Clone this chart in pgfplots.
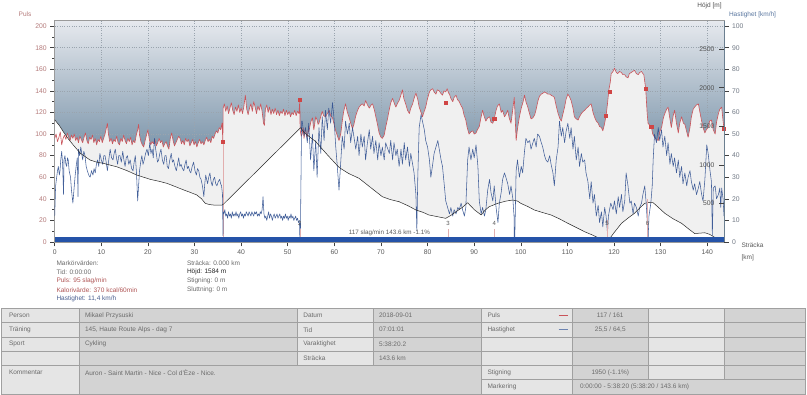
\documentclass[border=0pt]{standalone}
\usepackage{pgfplots}
\usepackage{pgfplotstable}
\pgfplotsset{compat=1.18}
\usepackage{fontspec}
\setmainfont{Liberation Sans}
\definecolor{bgtop}{HTML}{E6E9EE}
\definecolor{bgbot}{HTML}{30597A}
\definecolor{gridc}{HTML}{9AA4AE}
\definecolor{pulsfill}{HTML}{F0F0F0}
\definecolor{pulsc}{HTML}{C9545A}
\definecolor{markc}{HTML}{D04545}
\definecolor{speedc}{HTML}{2F4F90}
\definecolor{barc}{HTML}{2553A8}
\definecolor{pinkl}{HTML}{E2AEAE}
\definecolor{pulslab}{HTML}{B47A7A}
\definecolor{speedlab}{HTML}{707884}
\definecolor{speedtitle}{HTML}{5A77A0}
\definecolor{elevlab}{HTML}{505050}
\definecolor{xlab}{HTML}{5A5A5A}
\definecolor{framec}{HTML}{9A9A9A}
\definecolor{rightc}{HTML}{6B7F90}
\definecolor{tickc}{HTML}{404040}
\definecolor{cellL}{HTML}{E5E5E5}
\definecolor{cellD}{HTML}{D3D3D3}
\definecolor{tborder}{HTML}{A0A0A0}
\definecolor{ttext}{HTML}{6B6B6B}
\definecolor{redtext}{HTML}{B05555}
\definecolor{bluetext}{HTML}{4A5F90}
\newcommand\ticfont{\fontsize{6.8}{8}\selectfont}
\newcommand\txtfont{\fontsize{6.5}{8}\selectfont}

\pgfplotstableread{
x y
0.0 96
0.3 100
0.6 93
0.9 97
1.2 102
1.5 90
1.8 96
2.1 99
2.4 95
2.7 101
3.0 97
3.3 94
3.6 99
3.9 96
4.2 100
4.5 94
4.8 97
5.1 92
5.4 98
5.7 95
6.0 92
6.3 97
6.6 101
6.9 94
7.2 91
7.5 97
7.8 95
8.1 99
8.4 92
8.7 96
9.0 90
9.3 95
9.6 93
9.9 98
10.2 92
10.5 96
10.8 100
11.1 106
11.3 110
11.5 101
11.8 93
12.1 96
12.4 91
12.7 95
13.0 93
13.3 98
13.6 92
13.9 90
14.2 96
14.5 93
14.8 99
15.1 94
15.4 91
15.7 96
16.0 93
16.3 97
16.6 90
16.9 94
17.2 92
17.5 99
17.8 104
18.0 109
18.2 99
18.5 93
18.8 90
19.1 88
19.4 94
19.7 99
20.0 104
20.3 95
20.6 90
20.9 93
21.2 91
21.5 95
21.8 89
22.1 92
22.4 96
22.7 92
23.0 94
23.3 88
23.6 91
23.9 93
24.2 89
24.5 86
24.8 96
25.1 101
25.4 94
25.7 89
26.0 92
26.3 95
26.6 98
26.9 96
27.2 91
27.5 94
27.8 90
28.1 96
28.4 93
28.7 95
29.0 89
29.3 92
29.6 95
29.9 90
30.2 93
30.5 88
30.8 92
31.1 95
31.4 91
31.7 93
32.0 90
32.3 94
32.6 97
32.9 93
33.2 95
33.5 92
33.8 98
34.1 96
34.4 100
34.7 103
35.0 101
35.3 106
35.6 104
35.9 110
36.08 93
36.15 124
36.4 128
36.7 121
37.0 126
37.3 119
37.6 124
37.9 129
38.2 122
38.5 118
38.8 125
39.1 121
39.4 127
39.7 120
40.0 124
40.3 119
40.6 126
40.9 136
41.2 123
41.5 118
41.8 124
42.1 128
42.4 121
42.7 130
43.0 125
43.3 119
43.6 126
43.9 122
44.2 128
44.5 121
44.8 110
45.0 108
45.2 123
45.5 127
45.8 120
46.1 125
46.4 118
46.7 123
47.0 119
47.3 124
47.6 118
47.9 122
48.2 117
48.5 121
48.8 119
49.1 123
49.4 117
49.7 122
50.0 118
50.3 121
50.6 116
50.9 120
51.2 118
51.5 122
51.8 117
52.1 121
52.4 119
52.6 132
52.65 104
52.9 98
53.1 100
53.3 106
53.5 96
53.7 103
53.8 105
54.0 99
54.2 97
54.4 104
54.5 102
54.8 108
55.0 112
55.3 115
55.5 107
55.6 104
55.8 110
56.0 116
56.3 113
56.5 109
56.7 110
57.0 115
57.2 118
57.4 121
57.7 117
58.1 116
58.5 119
58.9 122
59.2 117
59.6 115
60.0 108
60.3 103
60.6 99
61.0 94
61.2 97
61.4 101
61.7 112
62.0 121
62.4 128
62.8 120
63.2 115
63.5 110
63.9 105
64.2 109
64.6 117
65.0 122
65.3 125
65.7 127
66.0 128
66.4 126
66.7 131
67.1 127
67.5 124
67.9 127
68.2 128
68.6 122
68.9 116
69.2 110
69.6 101
70.0 97
70.3 96
70.7 99
71.0 106
71.4 114
71.8 123
72.1 129
72.5 133
72.9 128
73.2 125
73.6 129
73.9 131
74.2 135
74.6 141
74.9 133
75.3 128
75.7 122
76.1 119
76.4 124
76.8 128
77.1 133
77.5 138
77.9 132
78.2 125
78.6 120
78.9 116
79.2 120
79.6 125
80.0 133
80.4 139
80.7 141
81.1 142
81.4 139
81.8 137
82.1 141
82.5 140
82.8 138
83.2 136
83.5 140
83.9 139
84.2 142
84.5 138
84.7 137
85.0 133
85.4 130
85.7 134
86.1 136
86.4 132
86.8 130
87.1 127
87.5 124
87.8 118
88.2 113
88.5 106
88.9 100
89.3 102
89.7 103
90.0 100
90.4 101
90.7 104
91.1 107
91.4 114
91.8 122
92.1 117
92.5 112
92.9 115
93.3 116
93.6 111
94.0 110
94.3 114
94.7 122
95.0 126
95.4 128
95.8 120
96.1 122
96.5 116
96.8 118
97.2 122
97.5 115
97.9 110
98.2 120
98.6 134
98.8 115
99.0 94
99.3 105
99.7 116
100.1 124
100.5 130
100.8 136
101.1 130
101.5 125
101.8 120
102.2 114
102.6 115
103.0 118
103.3 123
103.7 131
104.0 135
104.4 137
104.8 138
105.1 139
105.5 138
105.8 137
106.2 137
106.5 136
106.9 135
107.2 134
107.6 126
108.0 119
108.4 114
108.7 112
109.0 118
109.4 125
109.7 132
110.1 137
110.4 135
110.8 131
111.2 124
111.5 116
111.9 114
112.3 113
112.6 116
113.0 119
113.4 121
113.7 122
114.1 124
114.4 125
114.8 127
115.1 128
115.5 120
115.8 116
116.2 112
116.6 110
116.9 107
117.3 106
117.6 103
117.9 108
118.3 117
118.6 128
118.9 141
119.2 148
119.4 156
119.8 158
120.1 161
120.5 157
120.8 156
121.2 158
121.6 157
121.9 155
122.3 155
122.6 153
123.0 152
123.3 156
123.7 157
124.0 158
124.4 159
124.8 156
125.2 155
125.5 157
125.9 158
126.2 156
126.4 155
126.8 142
127.1 120
127.3 110
127.7 108
128.0 107
128.3 100
128.7 97
129.1 95
129.5 94
129.8 102
130.2 106
130.6 115
130.9 119
131.3 123
131.6 125
132.0 114
132.3 106
132.7 117
133.0 122
133.4 110
133.8 101
134.1 110
134.5 116
134.9 110
135.2 109
135.6 102
135.9 97
136.3 106
136.6 116
137.0 123
137.3 125
137.7 127
138.1 128
138.4 121
138.8 112
139.1 106
139.5 101
139.8 104
140.2 106
140.5 112
140.9 113
141.3 104
141.7 100
142.0 111
142.4 119
142.7 123
143.1 125
143.4 112
143.6 105
}\pulsdata

\pgfplotstableread{
x y
0.0 12
0.2 26
0.42 30
0.6 33
0.78 35
1.0 31
1.14 33
1.3 38
1.5 42
1.7 36
1.9 22
2.0 38
2.2 40
2.4 36
2.57 35
2.75 39
2.9 38
3.1 33
3.4 30
3.6 24
3.9 18
4.05 22
4.2 26
4.4 31
4.6 35
4.85 39
5.0 21
5.1 43
5.35 40
5.6 44
5.8 41
6.0 38
6.25 42
6.5 40
6.75 35
7.0 33
7.3 31
7.6 30
7.9 33
8.2 31
8.45 34
8.7 32
8.95 36
9.2 38
9.45 35
9.7 41
10.0 38
10.3 36
10.55 40
10.8 40
11.05 37
11.3 33
11.6 38
11.9 43
12.2 39
12.5 38
12.75 41
13.0 43
13.25 39
13.5 36
13.75 40
14.0 40
14.3 37
14.6 42
14.85 38
15.1 35
15.35 39
15.6 40
15.9 36
16.2 38
16.5 34
16.8 33
17.05 37
17.3 40
17.55 32
17.8 19
18.0 26
18.2 33
18.45 37
18.7 40
18.95 36
19.2 38
19.5 41
19.8 43
20.1 40
20.4 46
20.65 41
20.9 43
21.15 39
21.4 48
21.6 44
21.8 41
22.05 37
22.3 38
22.55 41
22.8 43
23.1 38
23.4 36
23.65 40
23.9 40
24.15 35
24.4 34
24.7 38
25.0 41
25.25 37
25.5 38
25.8 35
26.1 33
26.35 36
26.6 39
26.85 35
27.1 36
27.4 34
27.7 33
27.95 36
28.2 38
28.45 34
28.7 35
28.95 33
29.2 32
29.5 35
29.8 37
30.1 33
30.4 31
30.65 34
30.9 33
31.15 30
31.4 29
31.7 26
32.0 21
32.2 27
32.4 31
32.6 29
32.8 27
33.05 30
33.3 32
33.55 28
33.8 26
34.05 29
34.3 30
34.55 27
34.8 26
35.1 28
35.4 29
35.6 27
35.8 26
36.0 22
36.1 3
36.15 14
36.3 13
36.5 15
36.7 12
36.9 13
37.1 11
37.3 14
37.5 12
37.7 13
37.9 11
38.1 14
38.3 12
38.5 13
38.7 12
38.9 14
39.1 12
39.3 13
39.5 11
39.7 13
39.9 14
40.1 12
40.3 13
40.5 11
40.7 13
40.9 12
41.1 14
41.3 13
41.5 12
41.7 14
41.9 13
42.1 12
42.3 14
42.5 13
42.7 12
42.9 14
43.1 13
43.3 14
43.5 12
43.7 13
43.9 12
44.1 14
44.3 13
44.5 15
44.7 21
44.9 13
45.1 11
45.3 12
45.5 10
45.7 12
45.9 14
46.1 11
46.3 13
46.5 12
46.7 10
46.9 12
47.1 13
47.3 11
47.5 12
47.7 13
47.9 11
48.1 12
48.3 13
48.5 11
48.7 12
48.9 10
49.1 12
49.3 11
49.5 13
49.7 11
49.9 12
50.1 10
50.3 12
50.5 11
50.7 13
50.9 11
51.1 12
51.3 10
51.5 11
51.7 12
51.9 10
52.1 11
52.3 9
52.5 10
52.62 0
52.7 0
52.97 56
53.1 56
53.5 49
53.8 53
54.2 46
54.5 55
54.9 38
55.3 50
55.6 33
56.0 47
56.3 30
56.7 53
57.1 41
57.4 58
57.8 47
58.1 61
58.5 52
58.8 62
59.2 55
59.6 64.5
59.9 58
60.3 44
60.6 36
61.0 24
61.4 38
61.7 49
62.1 43
62.4 56
62.8 50
63.2 55
63.5 46
63.9 53
64.6 43
65.0 49
65.3 40
65.7 50
66.0 44
66.4 49
66.7 38
67.1 46
67.5 52
67.8 43
68.2 49
68.5 41
68.9 47
69.3 38
69.6 46
70.0 40
70.3 44
70.7 38
71.0 46
71.8 41
72.1 47
72.5 38
72.8 46
73.2 40
73.5 43
73.9 35
74.3 43
74.6 36
75.0 46
75.3 38
75.7 44
76.1 35
76.4 41
76.8 36
77.1 32
77.5 22
77.7 5
77.9 30
78.2 53
78.6 59
78.9 56
79.3 52
79.6 47
80.0 44
80.4 38
80.7 30
81.1 36
81.4 41
81.8 44
82.2 47
82.5 43
82.9 38
83.2 35
83.6 26
83.9 19
84.3 16
84.7 13
85.0 16
85.4 12
85.7 15
86.1 13
86.5 16
86.8 15
87.2 18
87.5 15
87.9 12
88.2 16
88.6 38
88.9 44
89.3 38
89.7 43
90.0 39
90.4 45
90.8 35
91.1 19
91.5 13
91.8 16
92.2 12
92.5 15
92.9 24
93.3 29
93.6 23
94.0 19
94.3 26
94.7 16
95.1 9
95.4 18
95.8 23
96.1 29
96.5 32
96.8 30
97.2 27
97.6 22
97.9 26
98.3 20
98.55 12
98.6 0
98.7 0
99.0 33
99.3 38
99.7 30
100.1 35
100.4 32
100.8 42
101.1 48
101.5 46
101.9 47
102.2 43
102.6 46
102.9 48
103.3 44
103.6 50
104.0 49
104.4 46
104.7 44
105.1 40
105.4 38
105.8 37
106.2 40
106.5 36
106.9 32
107.2 26
107.6 38
108.0 44
108.3 56
108.7 49
109.0 53
109.4 46
109.7 51
110.1 55
110.5 48
110.8 53
111.2 43
111.5 49
111.9 38
112.3 44
112.6 35
113.0 41
113.3 37
113.7 38
114.0 32
114.4 28
114.8 20
115.1 28
115.5 18
115.8 22
116.2 12
116.6 17
116.9 9
117.3 14
117.6 7
118.0 16
118.3 12
118.6 4
118.8 12
119.3 18
119.8 15
120.1 19
120.5 13
120.9 21
121.2 16
121.6 22
121.9 14
122.3 19
122.6 32
123.0 26
123.4 18
123.7 19
124.1 13
124.4 18
124.8 16
125.2 12
125.5 16
125.9 18
126.2 22
126.6 26
126.9 18
127.2 7
127.3 0
127.5 12
127.9 18
128.2 26
128.4 38
128.7 50
129.1 46
129.5 53
129.8 47
130.2 52
130.5 44
130.9 49
131.3 40
131.6 46
132.0 36
132.3 41
132.7 35
133.0 39
133.4 32
133.8 38
134.1 30
134.5 35
134.8 27
135.2 32
135.6 26
135.9 30
136.3 33
136.6 28
137.0 24
137.3 27
137.7 22
138.1 25
138.4 28
138.8 22
139.1 19
139.5 29
139.9 45
140.2 41
140.4 37
140.6 33
140.9 28
141.1 3
141.3 25
141.7 26
142.0 20
142.4 22
142.7 25
142.9 16
143.1 25
143.4 20
143.6 12
}\speeddata

\pgfplotstableread{
x y
0 1584
1.0 1510
1.85 1429
3.0 1330
4.0 1256
5.5 1150
7.6 1062
9.0 1035
10.5 1019
12.0 995
13.3 975
15.5 925
17.6 868
20.5 812
22.5 785
24.1 760
26.0 715
27.7 674
29.0 645
30.5 609
31.5 560
32.3 501
33.2 485
34.1 479
35.9 479
36.2 490
48.4 1220
52.75 1481
53.5 1420
56.0 1300
58.5 1130
61.0 967
63.0 890
65.3 825
67.5 720
70.3 587
72.0 550
73.9 522
75.8 470
77.5 415
79.0 385
80.3 350
82.0 330
83.9 307
85.0 345
86.1 392
87.5 450
88.6 509
90.0 420
91.5 350
92.3 410
93.2 457
95.0 500
96.8 530
98.3 544
99.3 530
100.0 501
101.5 460
102.9 415
104.5 385
106.5 350
108.3 300
110.1 242
112.0 185
113.7 133
115.2 95
116.6 55
118.7 15
120.0 120
121.6 242
123.0 310
124.4 372
125.5 440
126.6 501
127.5 512
128.4 509
129.5 450
130.9 372
132.7 300
134.5 242
136.0 170
137.3 110
138.5 115
139.5 120
140.5 100
141.6 60
142.7 25
143.6 5
}\elevdata

\pgfplotsset{
  base/.style={scale only axis, width=669.3pt, height=221.3pt,
    at={(54.7pt,-242pt)}, anchor=south west, xmin=0, xmax=143.6,
    every tick label/.append style={font=\ticfont},
    /pgf/number format/assume math mode=true,
    /pgf/number format/1000 sep={}},
}

\begin{document}
\begin{tikzpicture}
\fill[white] (0pt,0pt) rectangle (807pt,-395pt);
\path[use as bounding box] (0pt,0pt) rectangle (807pt,-395pt);

% 1: background, grid, pulse fill
\begin{axis}[base, ymin=0, ymax=205,
  axis background/.style={top color=bgtop, bottom color=bgbot},
  xtick={0,10,...,140}, ytick={0,20,...,200},
  xmajorgrids, ymajorgrids,
  major grid style={draw=gridc, dotted, line width=0.45pt},
  xticklabels={}, yticklabels={}, major tick length=0pt,
  axis line style={draw=none}]
\addplot[draw=none, fill=pulsfill] table {\pulsdata} \closedcycle;
\end{axis}

% 2: elevation white fill
\begin{axis}[base, ymin=0, ymax=2868, hide axis]
\addplot[draw=none, fill=white] table {\elevdata} \closedcycle;
\end{axis}

% 3: pulse line, left axis, x axis
\begin{axis}[base, ymin=0, ymax=205,
  axis line style={draw=framec, line width=0.6pt},
  xtick={0,10,...,140}, ytick={0,20,...,200}, minor y tick num=1,
  xtick pos=left, ytick pos=left, tick align=outside,
  major tick length=4.5pt, minor tick length=2.5pt,
  every tick/.style={draw=tickc, line width=0.5pt},
  yticklabel style={text=pulslab},
  xticklabel style={text=xlab}]
\addplot[pinkl, line width=0.7pt] coordinates {(36.1,0) (36.1,93)};
\addplot[pulsc, line width=0.6pt, line join=round] table {\pulsdata};
\addplot[only marks, mark=square*, mark size=1.6pt, mark options={fill=markc, draw=markc}]
  coordinates {(36.08,93) (52.6,132) (83.9,129) (94.3,114) (118.3,117) (119.0,139) (126.8,142) (128.0,107) (143.45,105)};
\end{axis}

% 4: speed line, outer right axis
\begin{axis}[base, ymin=0, ymax=102.5,
  axis x line=none, axis y line*=right,
  axis line style={-, draw=rightc, line width=0.7pt},
  ytick={0,10,...,100}, tick align=outside, major tick length=4.5pt,
  every tick/.style={draw=tickc, line width=0.5pt},
  yticklabel style={text=speedlab}]
\addplot[speedc, line width=0.55pt, opacity=0.9, line join=round] table {\speeddata};
\end{axis}

% 5: elevation line, inner right axis
\begin{axis}[base, ymin=0, ymax=2868,
  axis x line=none, axis y line*=right,
  axis line style={-, draw=rightc, line width=0.7pt},
  ytick={500,1000,...,2500}, tick align=inside, major tick length=5pt,
  every tick/.style={draw=tickc, line width=0.5pt},
  yticklabel style={anchor=east, xshift=-6pt, text=elevlab}]
\addplot[black!85, line width=0.5pt, line join=round] table {\elevdata};
\end{axis}

% 6: selection bar and lap marks
\begin{axis}[base, ymin=0, ymax=205, hide axis]
\addplot[draw=none, fill=barc] coordinates {(0,0) (143.6,0) (143.6,4.4) (0,4.4)} -- cycle;
\addplot[pinkl, line width=0.6pt] coordinates {(52.6,4.4) (52.6,12)};
\addplot[pinkl, line width=0.6pt] coordinates {(84.4,4.4) (84.4,12)};
\addplot[pinkl, line width=0.6pt] coordinates {(94.3,4.4) (94.3,12)};
\addplot[pinkl, line width=0.6pt] coordinates {(118.5,4.4) (118.5,20)};
\addplot[pinkl, line width=0.6pt] coordinates {(127.2,4.4) (127.2,40)};
\node[font=\fontsize{6}{7}\selectfont, text=xlab] at (axis cs:52.6,17) {2};
\node[font=\fontsize{6}{7}\selectfont, text=xlab] at (axis cs:84.4,17) {3};
\node[font=\fontsize{6}{7}\selectfont, text=xlab] at (axis cs:94.3,17) {4};
\node[font=\fontsize{6}{7}\selectfont, text=xlab] at (axis cs:118.5,17) {5};
\node[font=\fontsize{6}{7}\selectfont, text=xlab] at (axis cs:127.2,17) {6};
\node[font=\fontsize{6.3}{7}\selectfont, text=xlab] at (axis cs:71.8,8.4) {117 slag/min 143.6 km -1.1\%};
\end{axis}

\begin{scope}[x=1pt, y=-1pt]
\node[font=\txtfont, text=pulslab] at (25,14.3) {Puls};
\node[font=\txtfont, text=elevlab] at (709.5,6.3) {Höjd [m]};
\node[font=\txtfont, text=speedtitle] at (752.5,15) {Hastighet [km/h]};
\node[font=\txtfont, text=xlab, anchor=west] at (738,245.5) {Sträcka};
\node[font=\txtfont, text=xlab, anchor=west] at (738,257.5) {[km]};
% marker values
\node[font=\txtfont, text=ttext, anchor=west] at (53,263.5) {Markörvärden:};
\node[font=\txtfont, text=ttext, anchor=west] at (53,272.3) {Tid: 0:00:00};
\node[font=\txtfont, text=redtext, anchor=west] at (53,281.1) {Puls: 95 slag/min};
\node[font=\txtfont, text=redtext, anchor=west] at (53,289.9) {Kalorivärde: 370 kcal/60min};
\node[font=\txtfont, text=bluetext, anchor=west] at (53,298.7) {Hastighet: 11,4 km/h};
\node[font=\txtfont, text=ttext, anchor=west] at (183.5,263.5) {Sträcka: 0.000 km};
\node[font=\txtfont, text=black!85, anchor=west] at (183.5,272.3) {Höjd: 1584 m};
\node[font=\txtfont, text=ttext, anchor=west] at (183.5,281.1) {Stigning: 0 m};
\node[font=\txtfont, text=ttext, anchor=west] at (183.5,289.9) {Sluttning: 0 m};
% table cells
\foreach \ya/\yb in {308.3/322.6, 322.6/336.9, 336.9/351.2, 351.2/365.5} {
  \filldraw[fill=cellL, draw=tborder, line width=0.6pt] (1.7,\ya) rectangle (79.3,\yb);
  \filldraw[fill=cellD, draw=tborder, line width=0.6pt] (79.3,\ya) rectangle (297.7,\yb);
  \filldraw[fill=cellL, draw=tborder, line width=0.6pt] (297.7,\ya) rectangle (373.3,\yb);
  \filldraw[fill=cellD, draw=tborder, line width=0.6pt] (373.3,\ya) rectangle (481,\yb);
  \filldraw[fill=cellL, draw=tborder, line width=0.6pt] (481,\ya) rectangle (572.3,\yb);
  \filldraw[fill=cellD, draw=tborder, line width=0.6pt] (572.3,\ya) rectangle (648.3,\yb);
  \filldraw[fill=cellL, draw=tborder, line width=0.6pt] (648.3,\ya) rectangle (724,\yb);
  \filldraw[fill=cellD, draw=tborder, line width=0.6pt] (724,\ya) rectangle (805,\yb);
}
\filldraw[fill=cellL, draw=tborder, line width=0.6pt] (1.7,365.5) rectangle (79.3,394);
\filldraw[fill=cellD, draw=tborder, line width=0.6pt] (79.3,365.5) rectangle (481,394);
\filldraw[fill=cellL, draw=tborder, line width=0.6pt] (481,365.5) rectangle (572.3,379.8);
\filldraw[fill=cellD, draw=tborder, line width=0.6pt] (572.3,365.5) rectangle (648.3,379.8);
\filldraw[fill=cellL, draw=tborder, line width=0.6pt] (648.3,365.5) rectangle (724,379.8);
\filldraw[fill=cellD, draw=tborder, line width=0.6pt] (724,365.5) rectangle (805,379.8);
\filldraw[fill=cellL, draw=tborder, line width=0.6pt] (481,379.8) rectangle (572.3,394);
\filldraw[fill=cellD, draw=tborder, line width=0.6pt] (572.3,379.8) rectangle (805,394);
% table text
\begin{scope}[every node/.style={font=\txtfont, text=ttext, anchor=west}]
\node at (5.5,315.45) {Person};
\node at (81.5,315.45) {Mikael Przysuski};
\node at (299.8,315.45) {Datum};
\node at (375.5,315.45) {2018-09-01};
\node at (484,315.45) {Puls};
\node at (5.5,329.75) {Träning};
\node at (81.5,329.75) {145, Haute Route Alps - dag 7};
\node at (299.8,329.75) {Tid};
\node at (375.5,329.75) {07:01:01};
\node at (484,329.75) {Hastighet};
\node at (5.5,344.05) {Sport};
\node at (81.5,344.05) {Cykling};
\node at (299.8,344.05) {Varaktighet};
\node at (375.5,344.05) {5:38:20.2};
\node at (299.8,358.35) {Sträcka};
\node at (375.5,358.35) {143.6 km};
\node at (5.5,372.65) {Kommentar};
\node at (81.5,372.65) {Auron - Saint Martin - Nice - Col d'Èze - Nice.};
\node at (484,372.65) {Stigning};
\node at (484,386.95) {Markering};
\node at (576.5,386.95) {0:00:00 - 5:38:20 (5:38:20 / 143.6 km)};
\node[anchor=center] at (610.3,315.45) {117 / 161};
\node[anchor=center] at (610.3,329.75) {25,5 / 64,5};
\node[anchor=center] at (610.3,372.65) {1950 (-1.1\%)};
\end{scope}
\draw[pulsc, line width=0.6pt] (558.5,315.2) -- (568,315.2);
\draw[speedc!70, line width=0.6pt] (558.5,329.5) -- (568,329.5);
\end{scope}
\end{tikzpicture}
\end{document}
